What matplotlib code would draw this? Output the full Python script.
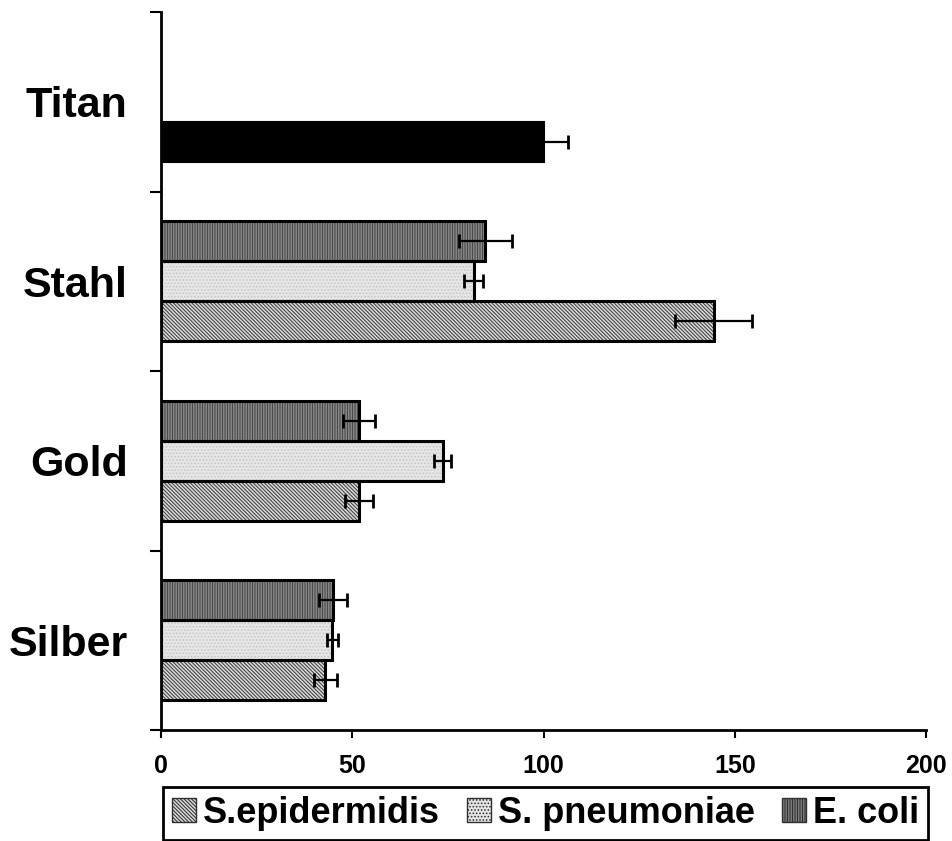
import matplotlib
matplotlib.use("Agg")
import matplotlib.pyplot as plt
from matplotlib.patches import Patch
import numpy as np

plt.rcParams['font.family'] = ['Liberation Sans', 'DejaVu Sans']
plt.rcParams['font.weight'] = 'bold'
plt.rcParams['hatch.linewidth'] = 0.75

categories = ["Silber", "Gold", "Stahl", "Titan"]
series = ["S.epidermidis", "S. pneumoniae", "E. coli"]
s_epi = [43, 51.7, 144.5, 100]
s_epi_err = [3.0, 3.6, 10.0, 6.5]
s_pn = [44.8, 73.7, 81.7, np.nan]
s_pn_err = [1.4, 2.2, 2.5, np.nan]
e_coli = [45, 51.8, 84.8, np.nan]
e_coli_err = [3.6, 4.2, 7.0, np.nan]
xticks = [0, 50, 100, 150, 200]

fig = plt.figure(figsize=(9.52, 8.41), dpi=100)
ax = fig.add_axes([161/952, 1-730/841, (926-161)/952, (730-12)/841])

y = np.arange(len(categories))
h = 40/179
styles = [
    dict(fc='#dadada', hatch='\\' * 9, hc='#404040'),
    dict(fc='#e6e6e6', hatch='.' * 5, hc='#c6c6c6'),
    dict(fc='#a8a8a8', hatch='|' * 10, hc='#4a4a4a'),
]
offsets = [-h, 0, h]  # S.epi bottom, S.pn middle, E.coli top
vals = [s_epi, s_pn, e_coli]
errs = [s_epi_err, s_pn_err, e_coli_err]

for v, e, off, st in zip(vals, errs, offsets, styles):
    ypos = y + off
    v = np.array(v, dtype=float)
    for j in range(len(categories)):
        if np.isnan(v[j]):
            continue
        if categories[j] == "Titan":
            ax.barh(ypos[j], v[j], height=h, color='black', edgecolor='black',
                    linewidth=1.5, zorder=2)
        else:
            ax.barh(ypos[j], v[j], height=h, color=st['fc'], edgecolor=st['hc'],
                    hatch=st['hatch'], linewidth=0, zorder=2)
            ax.barh(ypos[j], v[j], height=h, fill=False, edgecolor='black',
                    linewidth=2.2, zorder=3)
        ax.errorbar(v[j], ypos[j], xerr=e[j], fmt='none', ecolor='black',
                    elinewidth=1.6, capsize=5, capthick=2, zorder=4)

ax.set_ylim(-0.5, len(categories) - 0.5)
ax.set_xlim(0, 200)
ax.set_xticks(xticks)
ax.set_xticklabels([str(t) for t in xticks], fontsize=18, fontweight='bold')
ax.set_yticks(np.arange(-0.5, len(categories), 1.0))
ax.set_yticklabels([])
ax.set_yticks(y, minor=True)
ax.set_yticklabels(categories, minor=True, fontsize=31, fontweight='bold')
ax.tick_params(axis='y', which='minor', length=0, pad=24)
ax.tick_params(axis='y', which='major', length=8, width=1.5, direction='out')
ax.tick_params(axis='x', which='major', length=6, width=1.5, direction='out', pad=11)
for s in ['top', 'right']:
    ax.spines[s].set_visible(False)
for s in ['left', 'bottom']:
    ax.spines[s].set_linewidth(2)

handles = [Patch(facecolor=st['fc'], edgecolor='#303030', hatch=st['hatch'], linewidth=1)
           for st in styles]
leg = fig.legend(handles, series, loc='upper left',
                 bbox_to_anchor=(163/952, 1-787/841, (928-163)/952, 0.0001),
                 mode='expand', ncol=3, fontsize=26, frameon=True, fancybox=False,
                 framealpha=1, edgecolor='black', handlelength=0.66, handleheight=0.66,
                 handletextpad=0.2, columnspacing=0.5, borderpad=0.25,
                 borderaxespad=0)
leg.get_frame().set_linewidth(2)
for t in leg.get_texts():
    t.set_fontweight('bold')

fig.savefig("out.png", dpi=100)
